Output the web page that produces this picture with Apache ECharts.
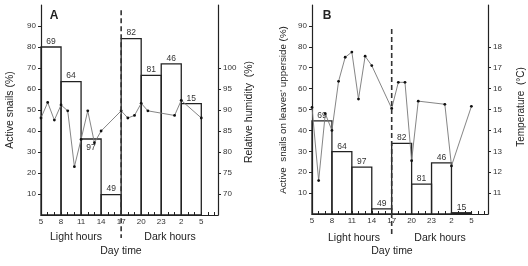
<!DOCTYPE html>
<html>
<head>
<meta charset="utf-8">
<script src="https://cdn.jsdelivr.net/npm/echarts@6.0.0/dist/echarts.min.js"></script>
<style>
  html, body { margin: 0; padding: 0; background: #fff; }
  #chart { width: 528px; height: 266px; }
</style>
</head>
<body>
<div id="chart"></div>
<script type="text/javascript">
	// bars: 3-hour blocks starting at these hours (hours > 24 = next day)
	var barStart = [5, 8, 11, 14, 17, 20, 23, 26];
	var barEndA = [8, 11, 14, 17, 20, 23, 26, 29];
	var activeA = [80, 63.5, 36.2, 9.7, 84, 66.5, 72, 53];
	var countA = ['69', '64', '97', '49', '82', '81', '46', '15'];
	var activeB = [44.6, 29.8, 22.4, 2.5, 33.8, 14.3, 24.5, 0.6];
	var countB = ['69', '64', '97', '49', '82', '81', '46', '15'];

	// measurements (humidity, temperature)
	var hoursLine = [5, 6, 7, 8, 9, 10, 11, 12, 13, 14, 17, 18, 19, 20, 21, 25, 26, 29];
	var humidityA = [88.1, 91.8, 87.6, 91.2, 89.8, 76.5, 83.0, 89.8, 82.2, 85.0, 89.8, 88.1, 88.7, 91.6, 89.8, 88.7, 92.3, 88.1];
	var temperatureB = [15.1, 11.6, 14.8, 14.0, 16.35, 17.5, 17.75, 15.5, 17.55, 17.1, 15.05, 16.3, 16.3, 12.55, 15.4, 15.25, 12.3, 15.15];

	var xTickLabels = [5, 8, 11, 14, 17, 20, 23, 26, 29];
	var leftTicks = [10, 20, 30, 40, 50, 60, 70, 80, 90];
	var humTicks = [70, 75, 80, 85, 90, 95, 100];
	var tempTicks = [11, 12, 13, 14, 15, 16, 17, 18];

	var FONT = '"Liberation Sans", Arial, sans-serif';
	var INK = '#222';

	function hourList(){
		var arr = [];
		for (var h = 5; h <= 31; h++) arr.push(h);
		return arr;
	}

	function xAxisCfg(grid){
		return {
			type: 'value', gridIndex: grid, min: 5, max: 31.5, interval: 3,
			axisLine: {lineStyle: {color: INK, width: 1.2}},
			axisTick: {inside: true, length: 3, lineStyle: {color: INK, width: 1}, customValues: hourList()},
			axisLabel: {
				customValues: xTickLabels, margin: 3, fontSize: 8, color: '#333', fontFamily: FONT,
				formatter: function(v){ return v > 24 ? String(v - 24) : String(v); }
			},
			splitLine: {show: false}
		};
	}

	function yAxisCfg(grid, pos, min, max, interval, ticks){
		return {
			type: 'value', gridIndex: grid, position: pos, min: min, max: max, interval: interval,
			axisLine: {show: true, lineStyle: {color: INK, width: 1.2}},
			axisTick: {show: true, length: 3, lineStyle: {color: INK, width: 1}, customValues: ticks},
			axisLabel: {customValues: ticks, margin: 5, fontSize: 8, color: '#333', fontFamily: FONT},
			splitLine: {show: false}
		};
	}

	function barSeries(grid, values, labels, insideIdx){
		var data = [];
		for (var i = 0; i < barStart.length; i++) {
			data.push([barStart[i], barEndA[i], values[i]]);
		}
		return {
			type: 'custom', xAxisIndex: grid, yAxisIndex: grid * 2, z: 1,
			data: data,
			renderItem: function(params, api){
				var p0 = api.coord([api.value(0), api.value(2)]);
				var p1 = api.coord([api.value(1), 0]);
				var inside = insideIdx.indexOf(params.dataIndex) >= 0;
				return {
					type: 'group',
					children: [
						{type: 'rect',
						 shape: {x: p0[0], y: p0[1], width: p1[0] - p0[0], height: p1[1] - p0[1]},
						 style: {fill: 'rgba(255,255,255,0)', stroke: INK, lineWidth: 1.3}},
						{type: 'text', x: (p0[0] + p1[0]) / 2, y: inside ? p0[1] + 4 : p0[1] - 1,
						 style: {text: labels[params.dataIndex], textAlign: 'center',
						         textVerticalAlign: inside ? 'top' : 'bottom',
						         font: '8.5px ' + FONT, fill: '#333'}}
					]
				};
			}
		};
	}

	function lineSeries(grid, values){
		var data = [];
		for (var i = 0; i < hoursLine.length; i++) data.push([hoursLine[i], values[i]]);
		return {
			type: 'line', xAxisIndex: grid, yAxisIndex: grid * 2 + 1, z: 3,
			data: data, symbol: 'circle', symbolSize: 2.8, showSymbol: true,
			itemStyle: {color: '#111'},
			lineStyle: {color: '#777', width: 0.9},
			silent: true, animation: false
		};
	}

	var chart = echarts.init(document.getElementById('chart'));
	var option = {
		animation: false,
		grid: [
			{left: 41, right: 310, top: 5, bottom: 51},
			{left: 312, right: 40, top: 5, bottom: 52}
		],
		xAxis: [xAxisCfg(0), xAxisCfg(1)],
		yAxis: [
			yAxisCfg(0, 'left', 0, 100, 10, leftTicks),
			yAxisCfg(0, 'right', 65, 115, 5, humTicks),
			yAxisCfg(1, 'left', 0, 100, 10, leftTicks),
			yAxisCfg(1, 'right', 10, 20, 1, tempTicks)
		],
		series: [
			barSeries(0, activeA, countA, [2]),
			lineSeries(0, humidityA),
			barSeries(1, activeB, countB, []),
			lineSeries(1, temperatureB)
		]
	};
	chart.setOption(option);

	// dashed separator between light and dark hours, running below the axis
	function dashLine(grid, topVal){
		var a = chart.convertToPixel({gridIndex: grid}, [17, topVal]);
		var b = chart.convertToPixel({gridIndex: grid}, [17, -11]);
		return {type: 'line', shape: {x1: a[0], y1: a[1], x2: b[0], y2: b[1]},
			style: {stroke: '#333', lineWidth: 1.6, lineDash: [5, 3]}, z: 10};
	}
	function txt(x, y, s, size, rot, bold){
		return {type: 'text', x: x, y: y, rotation: rot || 0, z: 20,
			style: {text: s, textAlign: 'center', textVerticalAlign: 'middle',
			        font: (bold ? 'bold ' : '') + size + 'px ' + FONT, fill: '#222'}};
	}
	chart.setOption({
		graphic: [
			dashLine(0, 97.5),
			dashLine(1, 88.5),
			txt(54, 16, 'A', 12, 0, true),
			txt(327, 16, 'B', 12, 0, true),
			txt(10, 110, 'Active snails (%)', 10.5, Math.PI / 2),
			txt(249, 112, 'Relative humidity  (%)', 10.5, Math.PI / 2),
			txt(283, 110, 'Active  snails on leaves\u2019 upperside (%)', 9.8, Math.PI / 2),
			txt(521, 107, 'Temperature  (\u00b0C)', 10, Math.PI / 2),
			txt(76, 237, 'Light hours', 10.5),
			txt(170, 237, 'Dark hours', 10.5),
			txt(121, 251, 'Day time', 10.5),
			txt(354, 238, 'Light hours', 10.5),
			txt(440, 238, 'Dark hours', 10.5),
			txt(392, 251, 'Day time', 10.5)
		]
	});
</script>
</body>
</html>
